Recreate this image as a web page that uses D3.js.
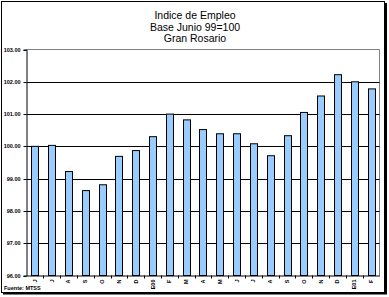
<!DOCTYPE html>
<html>
<head>
<meta charset="utf-8">
<script src="https://cdn.jsdelivr.net/npm/d3@7"></script>
<style>
  html, body { margin: 0; padding: 0; background: #fff; }
  svg { display: block; }
</style>
</head>
<body>
<svg id="chart" width="389" height="297"></svg>
<script>
const titleLines = ["Indice de Empleo", "Base Junio 99=100", "Gran Rosario"];
const categories = ["J","J","A","S","O","N","D","E00","F","M","A","M","J","J","A","S","O","N","D","E01","F"];
const values = [100.00, 100.03, 99.22, 98.63, 98.81, 99.69, 99.87, 100.30, 101.00, 100.82, 100.52, 100.39, 100.39, 100.08, 99.71, 100.33, 101.05, 101.56, 102.22, 102.00, 101.78];
const yTicks = [96, 97, 98, 99, 100, 101, 102, 103];
const sourceText = "Fuente: MTSS";

const svg = d3.select("#chart");
const plot = { left: 26.5, right: 379.5, top: 49.5, bottom: 275.5 };
const smallFont = "Liberation Sans, Arial, sans-serif";

// outer frame with shadow
svg.append("rect").attr("x", 1.5).attr("y", 1.5).attr("width", 383).attr("height", 291)
  .attr("fill", "#fff").attr("stroke", "#000").attr("stroke-width", 1);
svg.append("path").attr("d", `M${3},${293.5}H${386}V${3}`)
  .attr("fill", "none").attr("stroke", "#000").attr("stroke-width", 2);

// title
svg.append("g").selectAll("text").data(titleLines).join("text")
  .attr("x", 195).attr("y", (d, i) => 19 + i * 11.5)
  .attr("text-anchor", "middle")
  .attr("font-family", "Liberation Sans, Arial, sans-serif")
  .attr("font-size", 10.5)
  .attr("fill", "#000")
  .text(d => d);

const x = d3.scaleBand().domain(d3.range(categories.length))
  .range([plot.left, plot.right]).paddingInner(0.58).paddingOuter(0.29);
const y = d3.scaleLinear().domain([96, 103]).range([plot.bottom, plot.top]);

// plot border (gray top/right)
svg.append("path")
  .attr("d", `M${plot.left},${plot.top}H${plot.right}V${plot.bottom}`)
  .attr("fill", "none").attr("stroke", "#808080").attr("stroke-width", 1);

// gridlines
svg.append("g").selectAll("line").data(yTicks.filter(t => t > 96 && t < 103)).join("line")
  .attr("x1", plot.left).attr("x2", plot.right)
  .attr("y1", d => Math.round(y(d)) + 0.5).attr("y2", d => Math.round(y(d)) + 0.5)
  .attr("stroke", "#000").attr("stroke-width", 1);

// bars
svg.append("g").selectAll("rect").data(values).join("rect")
  .attr("x", (d, i) => Math.round(x(i)) + 0.5)
  .attr("width", Math.round(x.bandwidth()))
  .attr("y", d => y(d))
  .attr("height", d => y(96) - y(d))
  .attr("fill", "#99ccff").attr("stroke", "#000").attr("stroke-width", 1);

// y axis
const yAxis = d3.axisLeft(y).tickValues(yTicks).tickSize(3).tickFormat(d3.format(".2f"));
const gy = svg.append("g").attr("transform", `translate(${plot.left},0)`).call(yAxis);
gy.select(".domain").attr("stroke", "#000");
gy.selectAll(".tick line").attr("stroke", "#000");
gy.selectAll(".tick text")
  .attr("x", -6)
  .attr("font-family", smallFont)
  .attr("font-size", 5.5).attr("font-weight", "bold").attr("fill", "#000");
gy.selectAll(".tick").attr("transform", d => `translate(0,${Math.round(y(d)) + 0.5})`);

// x axis
const xAxis = d3.axisBottom(x).tickSize(0).tickFormat(i => categories[i]);
const gx = svg.append("g").attr("transform", `translate(0,${plot.bottom})`).call(xAxis);
gx.select(".domain").attr("stroke", "#000");
gx.selectAll(".tick text")
  .attr("transform", "rotate(-90)")
  .attr("text-anchor", "end")
  .attr("x", -4).attr("y", 0).attr("dy", "0.35em")
  .attr("font-family", smallFont)
  .attr("font-size", 5.5).attr("font-weight", "bold").attr("fill", "#000");
// category boundary ticks
const bounds = d3.range(1, categories.length).map(i => x(i) - x.step() * x.paddingInner() / 2);
gx.append("g").selectAll("line").data(bounds).join("line")
  .attr("x1", d => Math.round(d) + 0.5).attr("x2", d => Math.round(d) + 0.5)
  .attr("y1", 0).attr("y2", 3).attr("stroke", "#000");

// source
svg.append("text").attr("x", 4).attr("y", 290)
  .attr("font-family", smallFont)
  .attr("font-size", 5.5).attr("font-weight", "bold").attr("fill", "#000")
  .text(sourceText);
</script>
</body>
</html>
